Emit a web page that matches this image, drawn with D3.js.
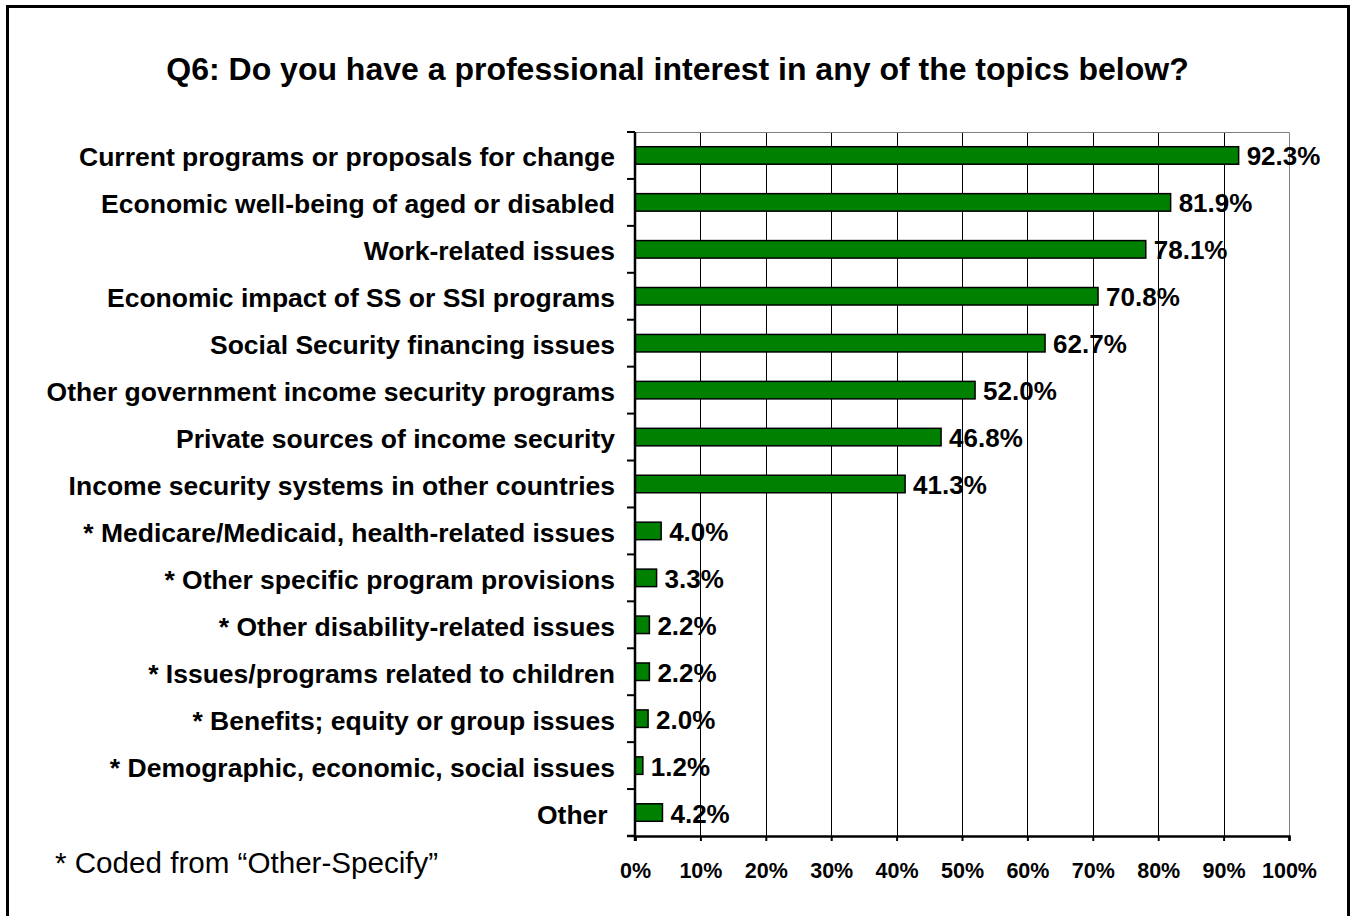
<!DOCTYPE html>
<html>
<head>
<meta charset="utf-8">
<script src="https://cdn.jsdelivr.net/npm/d3@7"></script>
<style>
  html, body { margin: 0; padding: 0; background: #fff; }
  svg { display: block; font-family: "Liberation Sans", Arial, Helvetica, sans-serif; }
</style>
</head>
<body>
<svg id="chart" width="1356" height="916"></svg>
<script>
// Survey responses: share of respondents with a professional interest in each topic
const categories = [
  "Current programs or proposals for change",
  "Economic well-being of aged or disabled",
  "Work-related issues",
  "Economic impact of SS or SSI programs",
  "Social Security financing issues",
  "Other government income security programs",
  "Private sources of income security",
  "Income security systems in other countries",
  "* Medicare/Medicaid, health-related issues",
  "* Other specific program provisions",
  "* Other disability-related issues",
  "* Issues/programs related to children",
  "* Benefits; equity or group issues",
  "* Demographic, economic, social issues",
  "Other\u00a0"
];
const values = [92.3, 81.9, 78.1, 70.8, 62.7, 52.0, 46.8, 41.3, 4.0, 3.3, 2.2, 2.2, 2.0, 1.2, 4.2];
const xTicks = [0, 10, 20, 30, 40, 50, 60, 70, 80, 90, 100];
const titleText = "Q6: Do you have a professional interest in any of the topics below?";
const noteText = "* Coded from \u201cOther-Specify\u201d";

const svg = d3.select("#chart");
const plot = { left: 635, right: 1289, top: 132, bottom: 836 };

const x = d3.scaleLinear().domain([0, 100]).range([plot.left, plot.right]);
const y = d3.scaleBand().domain(categories).range([plot.top, plot.bottom]).paddingInner(0.627).paddingOuter(0.3135);
const yGrid = d3.scaleBand().domain(categories).range([plot.top, plot.bottom]);

// outer frame
svg.append("rect")
  .attr("x", 7.5).attr("y", 6.5).attr("width", 1341).attr("height", 1000)
  .attr("fill", "none").attr("stroke", "#000").attr("stroke-width", 3);

// title
svg.append("text")
  .attr("x", 677.5).attr("y", 80)
  .attr("text-anchor", "middle")
  .attr("font-size", 32).attr("font-weight", "bold")
  .text(titleText);

// vertical gridlines
svg.append("g").selectAll("line")
  .data(xTicks.filter(t => t > 0 && t < 100))
  .join("line")
  .attr("x1", d => Math.round(x(d)) + 0.5).attr("x2", d => Math.round(x(d)) + 0.5)
  .attr("y1", plot.top).attr("y2", plot.bottom)
  .attr("stroke", "#000").attr("stroke-width", 1);

// plot area frame (top and right edges)
svg.append("path")
  .attr("d", `M${plot.left},${plot.top + 0.5}H${plot.right + 0.5}V${plot.bottom}`)
  .attr("fill", "none").attr("stroke", "#808080").attr("stroke-width", 1);

// bars
svg.append("g").selectAll("rect")
  .data(values)
  .join("rect")
  .attr("x", x(0))
  .attr("y", (d, i) => y(categories[i]))
  .attr("width", d => x(d) - x(0))
  .attr("height", y.bandwidth())
  .attr("fill", "#008000")
  .attr("stroke", "#000").attr("stroke-width", 1.5);

// value labels
svg.append("g").selectAll("text")
  .data(values)
  .join("text")
  .attr("x", d => x(d) + 8)
  .attr("y", (d, i) => y(categories[i]) + y.bandwidth() / 2 + 10)
  .attr("font-size", 26).attr("font-weight", "bold")
  .text(d => d.toFixed(1) + "%");

// bottom axis
const xAxis = d3.axisBottom(x).tickValues(xTicks).tickSize(5).tickFormat(d => d + "%");
const gx = svg.append("g").attr("transform", `translate(0,${plot.bottom})`).call(xAxis);
gx.select(".domain").attr("stroke", "#000").attr("stroke-width", 2.5);
gx.selectAll(".tick line").attr("stroke", "#000").attr("stroke-width", 2);
gx.selectAll(".tick text")
  .attr("y", 42).attr("dy", 0)
  .attr("font-size", 21.5).attr("font-weight", "bold")
  .attr("font-family", "Liberation Sans, Arial, sans-serif")
  .attr("fill", "#000");

// left axis with ticks at category boundaries
svg.append("line")
  .attr("x1", plot.left).attr("x2", plot.left)
  .attr("y1", plot.top).attr("y2", plot.bottom + 5)
  .attr("stroke", "#000").attr("stroke-width", 2.5);
const boundaries = categories.map(c => yGrid(c));
svg.append("g").selectAll("line")
  .data(boundaries)
  .join("line")
  .attr("x1", plot.left - 8).attr("x2", plot.left)
  .attr("y1", d => d).attr("y2", d => d)
  .attr("stroke", "#000").attr("stroke-width", 2);
svg.append("line")
  .attr("x1", plot.left - 8).attr("x2", plot.left)
  .attr("y1", plot.bottom).attr("y2", plot.bottom)
  .attr("stroke", "#000").attr("stroke-width", 2.5);

// category labels
svg.append("g").selectAll("text")
  .data(categories)
  .join("text")
  .attr("x", 615)
  .attr("y", d => yGrid(d) + yGrid.bandwidth() / 2 + 11)
  .attr("text-anchor", "end")
  .attr("font-size", 26.5).attr("font-weight", "bold")
  .attr("xml:space", "preserve")
  .style("white-space", "pre")
  .text(d => d);

// footnote
svg.append("text")
  .attr("x", 55).attr("y", 873)
  .attr("font-size", 29.6)
  .text(noteText);
</script>
</body>
</html>
